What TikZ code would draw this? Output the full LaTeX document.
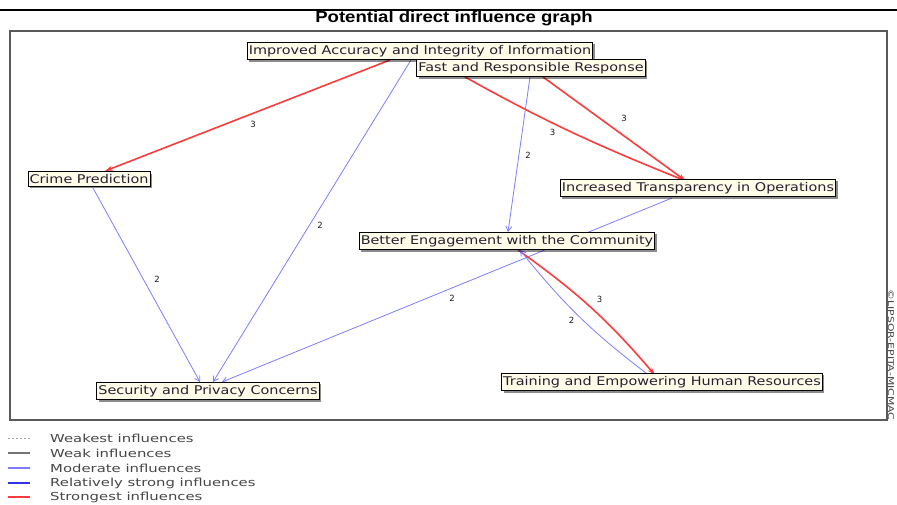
\documentclass[tikz,border=0pt]{standalone}
\usepackage{fontspec}
\setmainfont{DejaVu Sans}
\newfontfamily\titlef[FakeStretch=1.16]{Liberation Sans}
\newfontfamily\boxf[FakeStretch=1.2]{DejaVu Sans}
\newfontfamily\legf[FakeStretch=1.35]{DejaVu Sans}
\usetikzlibrary{arrows.meta,shadows,backgrounds}
\definecolor{redE}{RGB}{255,60,60}
\definecolor{modB}{RGB}{125,125,255}
\definecolor{strB}{RGB}{50,50,235}
\definecolor{boxF}{RGB}{255,253,232}
\definecolor{txtC}{RGB}{40,30,50}
\definecolor{legT}{RGB}{70,70,70}
\begin{document}
\begin{tikzpicture}[x=1pt,y=-1pt,
  var/.style={draw=black, line width=0.9pt, fill=boxF, inner xsep=1.5pt, inner ysep=2.8pt,
    font=\boxf\fontsize{12}{12.5}\selectfont, text=txtC,
    drop shadow={shadow xshift=2pt,shadow yshift=-2pt,fill=black,opacity=0.45}},
  strongest/.style={draw=redE, line width=1.6pt, -{Stealth[length=8pt,width=5pt]}},
  moderate/.style={draw=modB, line width=0.8pt, -{Straight Barb[length=5pt,width=6pt]}},
  wlab/.style={font=\fontsize{8.5}{9}\selectfont, text=black!90, inner sep=1pt, pos=0.5},
  legtext/.style={font=\legf\fontsize{11}{11.5}\selectfont, text=legT, anchor=west, inner sep=0pt},
]
\useasboundingbox (0,0) rectangle (897,504);
% top rule and title
\coordinate (rl) at (0,10);
\coordinate (rr) at (897,10);
\draw[line width=2pt] (rl) -- (rr);
\node[font=\titlef\bfseries\fontsize{16}{17}\selectfont, inner sep=0pt] (title) at (454,18) {Potential direct influence graph};
% frame
\draw[draw=black!65, line width=1.4pt] (10,31) rectangle (887,420);
\node[rotate=-90, font=\legf\fontsize{8}{9}\selectfont, text=black!75, inner sep=0pt] (copy) at (891,355) {©LIPSOR-EPITA-MICMAC};

% variables
\node[var] (imp)   at (420,51)  {Improved Accuracy and Integrity of Information};
\node[var] (fast)  at (531,68)  {Fast and Responsible Response};
\node[var] (crime) at (89,179)  {Crime Prediction};
\node[var] (trans) at (698,188) {Increased Transparency in Operations};
\node[var] (bet)   at (507,241) {Better Engagement with the Community};
\node[var] (train) at (662,382) {Training and Empowering Human Resources};
\node[var] (sec)   at (208,391) {Security and Privacy Concerns};

\begin{pgfonlayer}{background}
\draw[strongest] ([shift={(-30,9)}]imp.center) -- node[wlab, xshift=5.5pt, yshift=-9pt] (l1) {3} ([shift={(16,-8)}]crime.center);
\draw[moderate] ([shift={(-9,9)}]imp.center) -- node[wlab, xshift=8pt, yshift=-4.5pt] (l2) {2} ([shift={(5,-9)}]sec.center);
\draw[strongest] ([shift={(15,9)}]imp.center) to[bend right=4] node[wlab, xshift=-5.5pt, yshift=-7pt] (l3) {3} ([shift={(-12,-7)}]trans.center);
\draw[strongest] ([shift={(12,9)}]fast.center) -- node[wlab, xshift=9.5pt, yshift=10.5pt] (l4) {3} ([shift={(-12,-7)}]trans.center);
\draw[moderate] ([shift={(-1,9)}]fast.center) -- node[wlab, xshift=9pt, yshift=-1pt] (l5) {2} ([shift={(1,-9)}]bet.center);
\draw[moderate] ([shift={(4,9)}]crime.center) -- node[wlab, xshift=10.5pt, yshift=5.5pt] (l6) {2} ([shift={(-8,-9)}]sec.center);
\draw[moderate] ([shift={(-26,10)}]trans.center) -- node[wlab, xshift=5pt, yshift=-8.5pt] (l7) {2} ([shift={(14,-9)}]sec.center);
\draw[strongest] ([shift={(11,9)}]bet.center) to[bend left=7] node[wlab, xshift=8.5pt, yshift=8.4pt] (l8) {3} ([shift={(-7,-7)}]train.center);
\draw[moderate] ([shift={(-16,-9)}]train.center) to[bend left=7] node[wlab, xshift=-7pt, yshift=-4.5pt] (l9) {2} ([shift={(13,9)}]bet.center);
\end{pgfonlayer}

% legend
\coordinate (a1) at (8,438);  \coordinate (b1) at (30,438);
\coordinate (a2) at (8,453);  \coordinate (b2) at (30,453);
\coordinate (a3) at (8,468);  \coordinate (b3) at (30,468);
\coordinate (a4) at (8,483);  \coordinate (b4) at (30,483);
\coordinate (a5) at (8,497);  \coordinate (b5) at (30,497);
\draw[black!35, line width=0.8pt, dash pattern=on 2pt off 2pt] (a1) -- (b1);
\draw[black!55, line width=1.2pt] (a2) -- (b2);
\draw[modB, line width=1.2pt] (a3) -- (b3);
\draw[strB, line width=1.6pt] (a4) -- (b4);
\draw[redE, line width=1.8pt] (a5) -- (b5);
\node[legtext] (t1) at (50,438) {Weakest influences};
\node[legtext] (t2) at (50,453) {Weak influences};
\node[legtext] (t3) at (50,468) {Moderate influences};
\node[legtext] (t4) at (50,483) {Relatively strong influences};
\node[legtext] (t5) at (50,497) {Strongest influences};
\end{tikzpicture}
\end{document}
